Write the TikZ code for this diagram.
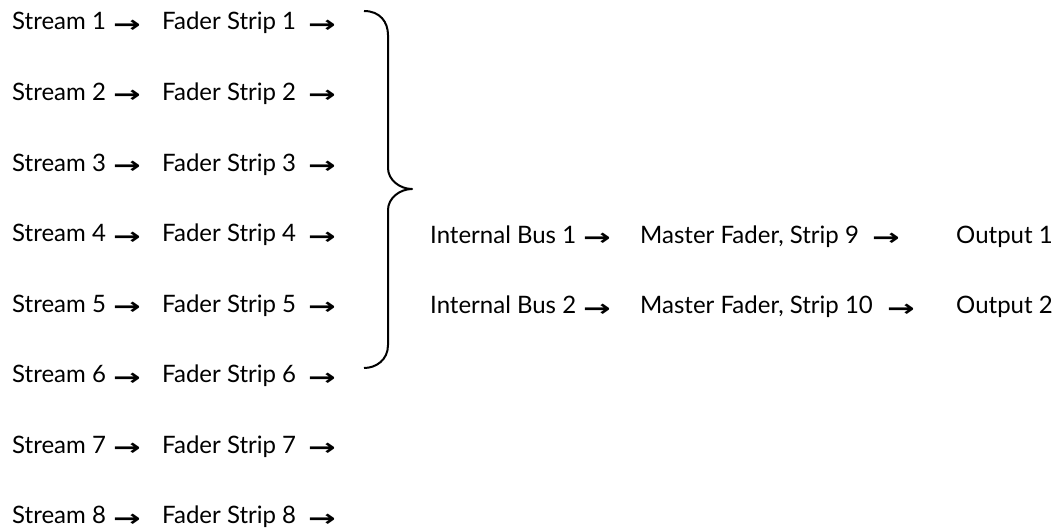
\documentclass[tikz,border=0pt]{standalone}
\usepackage{fontspec}
\usepackage{graphicx}
\setmainfont{Lato}
\newfontfamily\arrowfont{DejaVu Sans}
\newcommand{\flowarrow}{\raisebox{-2.5pt}{\scalebox{1.5}[1.05]{→}}}
\begin{document}
\begin{tikzpicture}[x=1pt,y=-1pt,
    lbl/.style={anchor=base west,inner sep=0pt,font=\fontsize{24}{26}\selectfont},
    arr/.style={anchor=base west,inner sep=0pt,font=\arrowfont\bfseries\fontsize{22}{24}\selectfont},
    brace/.style={line width=2pt,line cap=butt,line join=round}]
  \useasboundingbox (0,0) rectangle (1059,532);
  % input streams and their fader strips
  \foreach \i in {1,...,8}{
    \pgfmathsetmacro{\yb}{30+70.5*(\i-1)}
    \node[lbl] (s\i) at (12,\yb) {Stream \i};
    \node[arr] (as\i) at (113,\yb) {\flowarrow};
    \node[lbl] (f\i) at (162,\yb) {Fader Strip \i};
    \node[arr] (af\i) at (308,\yb) {\flowarrow};
  }
  % grouping brace
  \draw[brace] (364,11) .. controls (380,11) and (388,22) .. (388,35)
    -- (388,168) .. controls (388,180) and (400,189) .. (412,189)
    .. controls (400,189) and (388,198) .. (388,210)
    -- (388,345) .. controls (388,360) and (376,368) .. (364,368);
  % buses, master faders and outputs
  \node[lbl] (b1) at (430,243) {Internal Bus 1};
  \node[arr] (ab1) at (583,243) {\flowarrow};
  \node[lbl] (m1) at (640,243) {Master Fader, Strip 9};
  \node[arr] (am1) at (872,243) {\flowarrow};
  \node[lbl] (o1) at (956,243) {Output 1};
  \node[lbl] (b2) at (430,313.5) {Internal Bus 2};
  \node[arr] (ab2) at (583,313.5) {\flowarrow};
  \node[lbl] (m2) at (640,313.5) {Master Fader, Strip 10};
  \node[arr] (am2) at (887,313.5) {\flowarrow};
  \node[lbl] (o2) at (956,313.5) {Output 2};
\end{tikzpicture}
\end{document}
